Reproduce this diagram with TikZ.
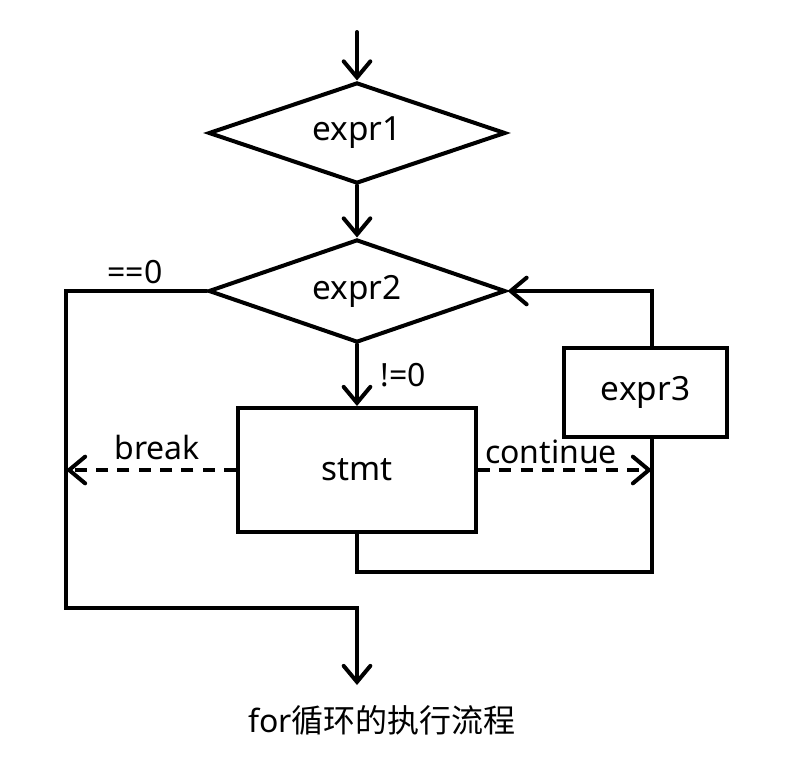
\documentclass[tikz,border=0pt]{standalone}
\usepackage{fontspec}
\setmainfont{Noto Sans}
\newfontfamily\cjk{Noto Sans CJK SC}
\usetikzlibrary{shapes.geometric,arrows.meta}
\begin{document}
\begin{tikzpicture}[x=0.75pt,y=-0.75pt,
  line width=3pt, line cap=round, line join=miter,
  arr/.style={-{Straight Barb[length=12pt,width=20pt,line cap=round]}},
  dia/.style={diamond,aspect=3,draw,inner sep=0pt,font=\fontsize{25}{29}\selectfont},
  boxn/.style={rectangle,draw,inner sep=0pt,font=\fontsize{25}{29}\selectfont},
  lbl/.style={font=\fontsize{24}{28}\selectfont,inner sep=0pt},
  dsh/.style={dash pattern=on 9pt off 7pt,line cap=butt}]
\useasboundingbox (0,0) rectangle (805,757);
\coordinate (start) at (357,32);
\node[dia,minimum width=222.75pt,minimum height=75.75pt] (e1) at (357,133) {expr1};
\node[dia,minimum width=222.75pt,minimum height=77.25pt] (e2) at (357,291) {expr2};
\node[boxn,minimum width=178.5pt,minimum height=93pt] (stmt) at (357,470) {stmt};
\node[boxn,minimum width=122.25pt,minimum height=66.75pt] (e3) at (645.5,392.5) {expr3};
\coordinate (lb) at (66,608);
\coordinate (cr) at (652,572);
\coordinate (out) at (357,685);
\node[lbl] (l0) at (135,272) {==0};
\node[lbl] (lbrk) at (157,447) {break};
\node[lbl] (lcont) at (551,452) {continue};
\node[lbl] (lne) at (403,375) {!=0};
\node[lbl] (title) at (382,720) {for{\cjk 循环的执行流程}};
\draw[arr] (start) -- (e1.north);
\draw[arr] (e1.south) -- (e2.north);
\draw[arr] (e2.west) -| (lb) -| (out);
\draw[arr] (e2.south) -- (stmt.north);
\draw[arr,dsh] (stmt.west) -- (stmt.west -| lb);
\draw[arr,dsh] (stmt.east) -- (stmt.east -| cr);
\draw (stmt.south) |- (cr) -- (cr |- e3.south);
\draw[arr] (cr |- e3.north) |- (e2.east);
\end{tikzpicture}
\end{document}
